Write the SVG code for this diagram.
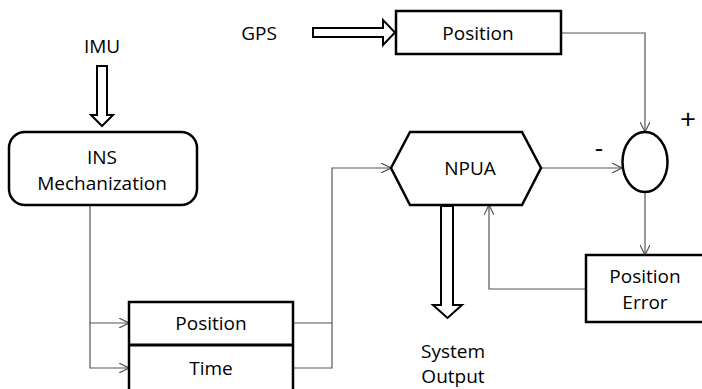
<svg xmlns="http://www.w3.org/2000/svg" width="702" height="389" viewBox="0 0 702 389">
<style>
.box{fill:#fff;stroke:#000;stroke-width:2.5}
.hollow{fill:#fff;stroke:#000;stroke-width:2}
.ln{fill:none;stroke:#555;stroke-width:1.2}
text{font-family:"Open Sans","Liberation Sans",sans-serif;font-size:19px;fill:#000;text-anchor:middle;dominant-baseline:central}
</style>
<defs>
<marker id="ah" viewBox="0 0 10 10" refX="10" refY="5" markerWidth="10" markerHeight="10" markerUnits="userSpaceOnUse" orient="auto">
<path d="M0,0 L10,5 L0,10" fill="none" stroke="#555" stroke-width="1.2"/>
</marker>
</defs>
<rect width="702" height="389" fill="#fff"/>
<g id="connectors">
<path class="ln" d="M90,205 V368 H129" marker-end="url(#ah)"/>
<path class="ln" d="M90,323 H129" marker-end="url(#ah)"/>
<path class="ln" d="M293,323 H332"/>
<path class="ln" d="M293,368 H332 V168 H391" marker-end="url(#ah)"/>
<path class="ln" d="M561,33 H645 V132" marker-end="url(#ah)"/>
<path class="ln" d="M541,168 H622" marker-end="url(#ah)"/>
<path class="ln" d="M645,192 V255" marker-end="url(#ah)"/>
<path class="ln" d="M586,289 H489 V205" marker-end="url(#ah)"/>
</g>
<g id="imu">
<text x="102" y="46">IMU</text>
<path class="hollow" d="M97,66 H107 V115 H113 L102,126 L91,115 H97 Z"/>
</g>
<g id="gps">
<text x="259" y="33">GPS</text>
<path class="hollow" d="M313,28 H383 V20 L395,32.5 L383,45 V37 H313 Z"/>
</g>
<g id="ins">
<rect class="box" x="9" y="132" width="188" height="73" rx="16"/>
<text x="102" y="157">INS</text>
<text x="102" y="183">Mechanization</text>
</g>
<g id="gps-position">
<rect class="box" x="396" y="11" width="165" height="43"/>
<text x="478" y="33">Position</text>
</g>
<g id="sum">
<ellipse class="box" cx="645" cy="162" rx="22.5" ry="30"/>
<text x="688" y="118" style="font-size:28px">+</text>
<text x="599" y="147" style="font-size:26px">-</text>
</g>
<g id="npua">
<path class="box" d="M391,168 L410,132 H522 L541,168 L522,205 H410 Z"/>
<text x="470" y="168">NPUA</text>
</g>
<g id="position-error">
<rect class="box" x="586" y="255" width="130" height="67"/>
<text x="645" y="276">Position</text>
<text x="645" y="302">Error</text>
</g>
<g id="system-output">
<path class="hollow" d="M441,206 H453 V305 H462 L447.5,318 L433,305 H441 Z"/>
<text x="453" y="351">System</text>
<text x="453" y="376">Output</text>
</g>
<g id="pos-time">
<rect class="box" x="129" y="302" width="164" height="100"/>
<line x1="129" y1="345" x2="293" y2="345" stroke="#000" stroke-width="3"/>
<text x="211" y="323">Position</text>
<text x="211" y="368">Time</text>
</g>
</svg>
